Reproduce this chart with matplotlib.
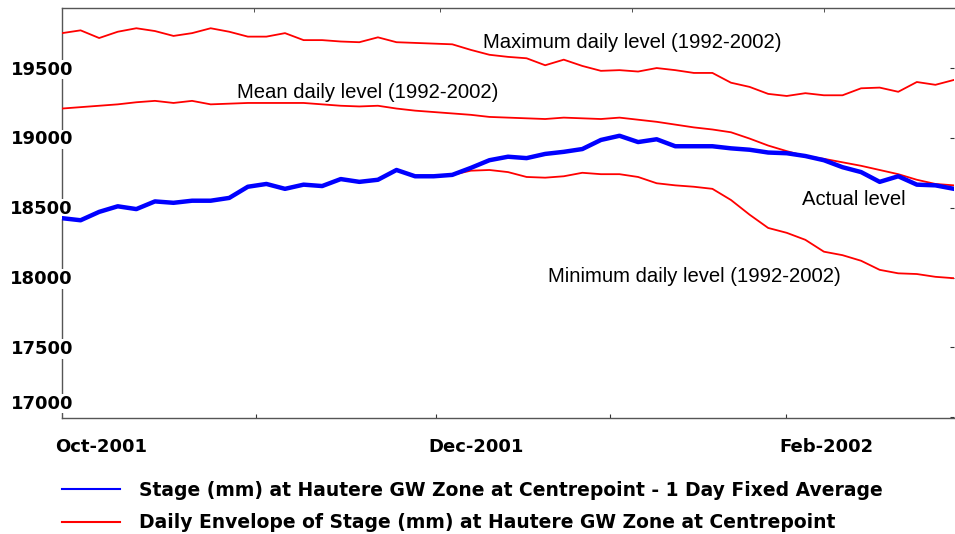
import matplotlib.pyplot as plt
import matplotlib.transforms as mtransforms
from matplotlib.lines import Line2D
import numpy as np

# days since 1 Oct 2001, one reading every 3 days
days = np.arange(0, 145, 3)

# stage (mm)
max_level = [19750, 19770, 19715, 19760, 19785, 19765, 19730, 19750, 19785, 19760,
             19725, 19725, 19750, 19700, 19700, 19690, 19685, 19720, 19685, 19680,
             19675, 19670, 19630, 19595, 19580, 19570, 19520, 19560, 19515, 19480,
             19485, 19475, 19500, 19485, 19465, 19465, 19395, 19365, 19315, 19300,
             19320, 19305, 19305, 19355, 19360, 19330, 19400, 19380, 19415]
mean_level = [19210, 19220, 19230, 19240, 19255, 19265, 19250, 19265, 19240, 19245,
              19250, 19250, 19250, 19250, 19240, 19230, 19225, 19230, 19210, 19195,
              19185, 19175, 19165, 19150, 19145, 19140, 19135, 19145, 19140, 19135,
              19145, 19130, 19115, 19095, 19075, 19060, 19040, 18995, 18945, 18905,
              18870, 18850, 18825, 18800, 18770, 18740, 18700, 18670, 18660]
min_level = [18425, 18410, 18470, 18510, 18490, 18545, 18535, 18550, 18550, 18570,
             18650, 18670, 18635, 18665, 18655, 18705, 18685, 18700, 18770, 18725,
             18725, 18735, 18765, 18770, 18755, 18720, 18715, 18725, 18750, 18740,
             18740, 18720, 18675, 18660, 18650, 18635, 18555, 18450, 18355, 18320,
             18270, 18185, 18160, 18120, 18055, 18030, 18025, 18005, 17995]
actual_level = [18425, 18410, 18470, 18510, 18490, 18545, 18535, 18550, 18550, 18570,
                18650, 18670, 18635, 18665, 18655, 18705, 18685, 18700, 18770, 18725,
                18725, 18735, 18785, 18840, 18865, 18855, 18885, 18900, 18920, 18985,
                19015, 18970, 18990, 18940, 18940, 18940, 18925, 18915, 18895, 18890,
                18870, 18840, 18790, 18755, 18685, 18725, 18665, 18660, 18635]

yticks = [17000, 17500, 18000, 18500, 19000, 19500]
month_starts = [31, 61, 92, 123]          # Nov, Dec, Jan, Feb
bottom_ticks = [31.3, 60.3, 88.5, 116.9]
date_labels = ['Oct-2001', 'Dec-2001', 'Feb-2002']
date_label_pos = [0, 60.3, 116.9]

legend_labels = ['Stage (mm) at Hautere GW Zone at Centrepoint - 1 Day Fixed Average',
                 'Daily Envelope of Stage (mm) at Hautere GW Zone at Centrepoint']

fig = plt.figure(figsize=(9.55, 5.34), dpi=100)
ax = fig.add_axes([62 / 955, 1 - 418 / 534, 892 / 955, 410 / 534])

ax.plot(days, max_level, color='#ff0000', lw=1.3, zorder=3)
ax.plot(days, mean_level, color='#ff0000', lw=1.3, zorder=3)
ax.plot(days, min_level, color='#ff0000', lw=1.3, zorder=3)
ax.plot(days, actual_level, color='#0000ff', lw=3.2, zorder=4)

ax.set_xlim(0, 144)
ax.set_ylim(16994, 19930)

ax.spines['right'].set_visible(False)
for s in ['left', 'bottom', 'top']:
    ax.spines[s].set_color('#555555')
    ax.spines[s].set_linewidth(1.0)

ax.set_xticks(bottom_ticks)
ax.set_xticks(month_starts, minor=True)
ax.tick_params(axis='x', which='major', direction='in', length=3, bottom=True, top=False,
               labelbottom=False, color='#333333')
ax.tick_params(axis='x', which='minor', direction='in', length=3, bottom=False, top=True,
               color='#333333')
ax.set_yticks(yticks)
ax.tick_params(axis='y', direction='in', length=3, left=False, right=True,
               labelleft=False, labelright=False, color='#333333')

# y labels sit over the left spine, with a white box
for v in yticks:
    dy = 15 if v == 17000 else 0
    tr = mtransforms.offset_copy(ax.get_yaxis_transform(), fig=fig, x=11, y=dy - 6.5, units='dots')
    ax.text(0, v, str(v), transform=tr, ha='right', va='baseline', fontsize=13,
            fontweight='bold', family='DejaVu Sans', zorder=2.8,
            bbox=dict(facecolor='white', edgecolor='none', pad=0.5))

tr = mtransforms.offset_copy(ax.get_xaxis_transform(), fig=fig, x=-7, y=-34, units='dots')
for pos, lab in zip(date_label_pos, date_labels):
    ax.text(pos, 0, lab, transform=tr, ha='left', va='baseline', fontsize=13,
            fontweight='bold', family='DejaVu Sans')

ann = dict(fontsize=14.6, family='Liberation Sans', va='baseline', ha='left',
           transform=ax.transAxes)
ax.text(0.472, 0.902, 'Maximum daily level (1992-2002)', **ann)
ax.text(0.196, 0.780, 'Mean daily level (1992-2002)', **ann)
ax.text(0.8296, 0.5195, 'Actual level', **ann)
ax.text(0.545, 0.332, 'Minimum daily level (1992-2002)', **ann)

# legend below the plot
for row, (col, lab) in enumerate(zip(['#0000ff', '#ff0000'], legend_labels)):
    yl = [489, 522][row]
    yb = [496, 528][row]
    fig.add_artist(Line2D([62 / 955, 120 / 955], [1 - yl / 534] * 2, color=col, lw=1.5,
                          transform=fig.transFigure))
    fig.text(139 / 955, 1 - yb / 534, lab, fontsize=13.5, fontweight='bold',
             family='DejaVu Sans', va='baseline', ha='left')

fig.savefig('out.png', dpi=100)
